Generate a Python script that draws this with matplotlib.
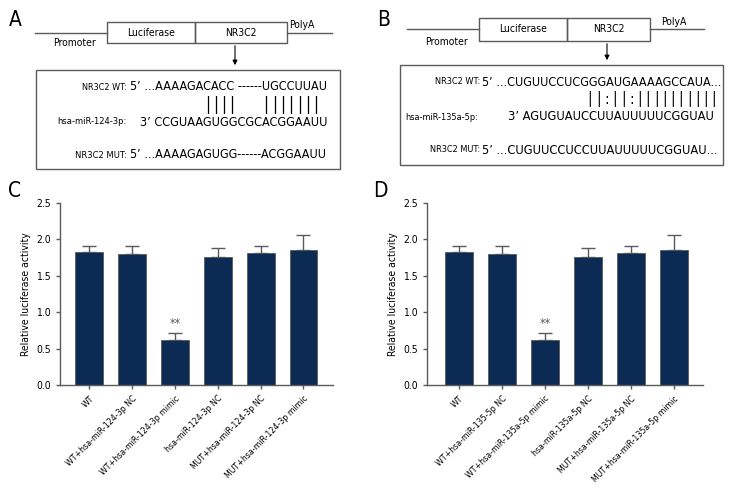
import matplotlib
matplotlib.use("Agg")
import matplotlib.pyplot as plt
from matplotlib.patches import Rectangle

plt.rcParams["font.family"] = ["DejaVu Sans"]
plt.rcParams["font.stretch"] = "condensed"

# ---- data ----
groups_c = ["WT", "WT+hsa-miR-124-3p NC", "WT+hsa-miR-124-3p mimic",
            "hsa-miR-124-3p NC", "MUT+hsa-miR-124-3p NC", "MUT+hsa-miR-124-3p mimic"]
groups_d = ["WT", "WT+hsa-miR-135-5p NC", "WT+hsa-miR-135a-5p mimic",
            "hsa-miR-135a-5p NC", "MUT+hsa-miR-135a-5p NC", "MUT+hsa-miR-135a-5p mimic"]
values_c = [1.83, 1.80, 0.62, 1.76, 1.82, 1.86]
errors_c = [0.08, 0.11, 0.09, 0.12, 0.09, 0.20]
values_d = [1.83, 1.80, 0.62, 1.76, 1.82, 1.86]
errors_d = [0.08, 0.11, 0.09, 0.12, 0.09, 0.20]
sig_idx = 2
yticks = [0.0, 0.5, 1.0, 1.5, 2.0, 2.5]

labels_a = ["NR3C2 WT:", "hsa-miR-124-3p:", "NR3C2 MUT:"]
seq_a = ["5’ ...AAAAGACACC ------UGCCUUAU",
         "3’ CCGUAAGUGGCGCACGGAAUU",
         "5’ ...AAAAGAGUGG------ACGGAAUU"]
pair_a = ["||||", "|||||||"]
labels_b = ["NR3C2 WT:", "hsa-miR-135a-5p:", "NR3C2 MUT:"]
seq_b = ["5’ ...CUGUUCCUCGGGAUGAAAAGCCAUA...",
         "3’ AGUGUAUCCUUAUUUUUCGGUAU",
         "5’ ...CUGUUCCUCCUUAUUUUUCGGUAU..."]
pair_b = "||:||:||||||||||"

BAR = "#0b2b55"
GREY = "#5a5a5a"

fig = plt.figure(figsize=(7.44, 5.04), dpi=100)
ov = fig.add_axes([0, 0, 1, 1])
ov.set_xlim(0, 744)
ov.set_ylim(504, 0)
ov.axis("off")
renderer = fig.canvas.get_renderer()


def fit(x0, x1, y, s, ha="left", base=9):
    # place text and scale its size so it spans x0..x1 (pixels)
    x = x0 if ha == "left" else x1
    t = ov.text(x, y, s, ha=ha, va="center", fontsize=base)
    w = t.get_window_extent(renderer).width
    t.set_fontsize(base * (x1 - x0) / w)
    return t


def pairs(x0, x1, y, s, size=12):
    # base-pairing marks, one glyph per position, evenly spread
    step = (x1 - x0) / (len(s) - 1)
    for i, c in enumerate(s):
        ov.text(x0 + i * step, y, c, ha="center", va="center", fontsize=size)


def construct(x0, yline, boxes, ytop, ybot, xend, arrow_x, arrow_end, promoter_xy, polya_xy):
    ov.plot([x0, boxes[0]], [yline, yline], color=GREY, lw=1)
    ov.plot([boxes[2], xend], [yline, yline], color=GREY, lw=1)
    for (a, b), name in zip([(boxes[0], boxes[1]), (boxes[1], boxes[2])], ["Luciferase", "NR3C2"]):
        ov.add_patch(Rectangle((a, ytop), b - a, ybot - ytop, fill=False, ec=GREY, lw=1))
        ov.text((a + b) / 2, (ytop + ybot) / 2, name, ha="center", va="center", fontsize=7.5)
    ov.annotate("", xy=(arrow_x, arrow_end), xytext=(arrow_x, ybot),
                arrowprops=dict(arrowstyle="-|>", color="black", lw=0.8, mutation_scale=7))
    ov.text(*promoter_xy, "Promoter", ha="center", va="center", fontsize=7.5)
    ov.text(*polya_xy, "PolyA", ha="center", va="center", fontsize=7.5)


# panel A schematic
ov.text(15, 20, "A", fontsize=15, ha="center", va="center")
construct(35, 33, [107, 195, 287], 22, 43, 332, 235, 68, (75, 43), (302, 25))
ov.add_patch(Rectangle((36, 70), 304, 99, fill=False, ec=GREY, lw=1))
fit(82, 127, 87, labels_a[0], ha="right")
fit(57, 127, 122, labels_a[1], ha="right")
fit(75, 127, 155, labels_a[2], ha="right")
fit(130, 328, 87, seq_a[0])
fit(140, 328, 122, seq_a[1])
fit(130, 326, 155, seq_a[2])
pairs(208, 232, 105, pair_a[0])
pairs(266, 316, 105, pair_a[1])

# panel B schematic
ov.text(384, 20, "B", fontsize=15, ha="center", va="center")
construct(407, 29, [479, 567, 650], 18, 41, 704, 607, 63, (447, 42), (674, 22))
ov.add_patch(Rectangle((400, 65), 323, 100, fill=False, ec=GREY, lw=1))
fit(434, 480, 82, labels_b[0], ha="right")
fit(405, 478, 117, labels_b[1])
fit(429, 480, 150, labels_b[2], ha="right")
fit(482, 721, 82, seq_b[0])
fit(508, 715, 117, seq_b[1])
fit(482, 718, 150, seq_b[2])
pairs(590, 714, 99, pair_b, size=11)

ov.text(15, 191, "C", fontsize=15, ha="center", va="center")
ov.text(380, 191, "D", fontsize=15, ha="center", va="center")


def bar_panel(rect, labels, values, errors, xlim):
    ax = fig.add_axes(rect)
    x = list(range(len(labels)))
    ax.bar(x, values, width=0.65, color=BAR, edgecolor=GREY, linewidth=0.6, zorder=2)
    ax.errorbar(x, values, yerr=[[0] * len(errors), errors], fmt="none",
                ecolor=GREY, elinewidth=1, capsize=5, capthick=1, zorder=1)
    ax.text(sig_idx, values[sig_idx] + errors[sig_idx] + 0.05, "**",
            ha="center", va="bottom", fontsize=9, color=GREY)
    ax.set_xlim(*xlim)
    ax.set_ylim(0, 2.5)
    ax.set_yticks(yticks)
    ax.set_yticklabels([f"{t:.1f}" for t in yticks], fontsize=7.5)
    ax.set_xticks(x)
    ax.set_xticklabels(labels, rotation=45, ha="right", rotation_mode="anchor", fontsize=6.3)
    ax.set_ylabel("Relative luciferase activity", fontsize=7.5, labelpad=4)
    for s in ["top", "right"]:
        ax.spines[s].set_visible(False)
    for s in ["left", "bottom"]:
        ax.spines[s].set_color(GREY)
        ax.spines[s].set_linewidth(1)
    ax.tick_params(colors=GREY, labelcolor="black", length=3, width=1)
    return ax


bar_panel([60 / 744, 119 / 504, 273 / 744, 182 / 504], groups_c, values_c, errors_c, (-0.68, 5.69))
bar_panel([427 / 744, 119 / 504, 276 / 744, 182 / 504], groups_d, values_d, errors_d, (-0.74, 5.67))

fig.savefig("out.png", dpi=100)
